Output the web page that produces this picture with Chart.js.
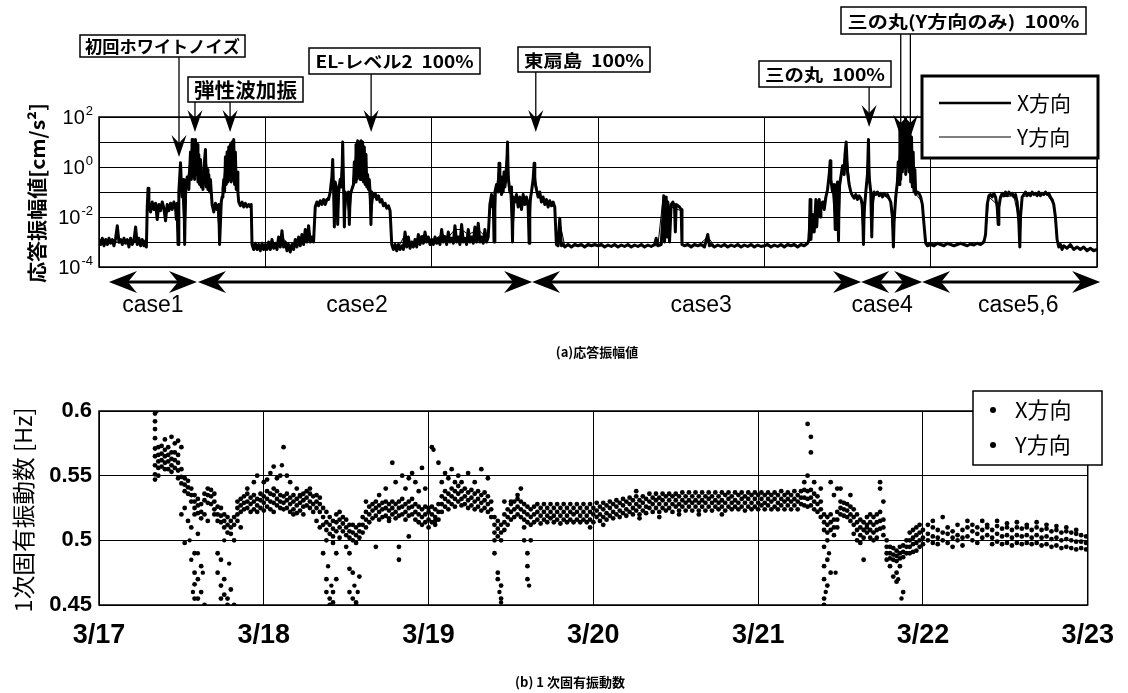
<!DOCTYPE html>
<html>
<head>
<meta charset="utf-8">
<script src="https://cdn.jsdelivr.net/npm/chart.js@4.4.1/dist/chart.umd.min.js"></script>
<style>
  body { margin: 0; background: #fff; width: 1128px; height: 693px; overflow: hidden; position: relative; }
  canvas { position: absolute; left: 0; }
  #amp { top: 0; }
  #freq { top: 365px; }
</style>
</head>
<body>
<canvas id="amp" width="1128" height="365"></canvas>
<canvas id="freq" width="1128" height="328"></canvas>
<script>
// x is days after 3/17 0:00
const dayLabels = ['3/17', '3/18', '3/19', '3/20', '3/21', '3/22', '3/23'];
const ampDecades = [-4, -3, -2, -1, 0, 1, 2];
const ampTickExp = [2, 0, -2, -4];
const freqTicks = [0.45, 0.5, 0.55, 0.6];
const freqTickLabels = ['0.45', '0.5', '0.55', '0.6'];

// (a) response amplitude, [day, log10 cm/s2]
const ampX = [
  [0,-2.9],[.01,-3.1],[.02,-2.85],[.03,-3.15],[.04,-2.9],[.05,-3.1],[.06,-2.85],[.07,-3.05],[.08,-2.9],[.09,-3.15],
  [.1,-2.85],[.11,-2.35],[.12,-3.0],[.13,-2.9],[.14,-3.1],[.15,-2.85],[.16,-3.05],[.17,-2.9],[.18,-3.2],[.19,-2.85],
  [.2,-3.1],[.21,-2.95],[.22,-2.4],[.23,-3.1],[.24,-2.85],[.25,-3.15],[.26,-2.9],[.27,-3.15],[.28,-2.95],[.285,-3.2],
  [.29,-1.6],[.295,-.85],[.3,-1.5],[.31,-1.8],[.32,-1.4],[.33,-1.7],[.34,-1.45],[.35,-2.1],[.36,-1.5],[.37,-1.75],
  [.38,-1.4],[.39,-1.65],[.4,-2.15],[.41,-1.5],[.42,-1.75],[.43,-1.45],[.44,-1.7],[.45,-1.4],[.46,-1.65],[.465,-2.1],
  [.47,-1.45],[.475,-3.1],[.48,-1.0],[.49,.17],[.495,-.6],[.5,-1.2],[.51,-.5],[.515,-3.1],[.52,-.9],[.53,-.4],
  [.54,-.9],[.55,.6],[.555,-.5],[.56,1.1],[.565,-.4],[.57,1.05],[.575,-.5],[.58,1.1],[.585,-.3],[.59,.9],
  [.595,-.6],[.6,.5],[.605,-.7],[.61,.3],[.615,-.8],[.62,-.2],[.625,-.9],[.63,-.1],[.64,.7],[.645,-.8],
  [.65,-.1],[.655,-.9],[.66,-.3],[.665,-1.0],[.67,-.5],[.68,-1.5],[.69,-1.8],[.7,-1.45],[.71,-1.7],[.72,-1.5],
  [.725,-3.1],[.735,-1.4],[.74,-1.2],[.745,-.9],[.75,-.5],[.755,-1.0],[.76,.4],[.765,-.7],[.77,.6],[.775,-.6],
  [.78,.8],[.785,-.5],[.79,.9],[.795,-.6],[.8,1.0],[.805,-.5],[.81,1.1],[.815,-.7],[.82,.6],[.825,-.9],
  [.83,-.2],[.835,-1.0],[.84,-1.4],[.85,-1.55],[.86,-1.4],[.87,-1.6],[.88,-1.45],[.89,-1.6],[.9,-1.5],[.91,-1.6],
  [.915,-1.5],[.92,-3.1],[.93,-3.3],[.94,-3.05],[.95,-3.3],[.96,-3.1],[.97,-3.35],[.98,-3.05],[.99,-3.3],[1.0,-3.1],
  [1.01,-3.3],[1.02,-3.0],[1.03,-3.3],[1.04,-2.9],[1.05,-3.25],[1.06,-3.05],[1.07,-3.3],[1.08,-2.8],[1.09,-3.2],[1.1,-2.55],
  [1.11,-3.2],[1.12,-3.0],[1.13,-3.35],[1.14,-3.1],[1.15,-3.4],[1.16,-3.1],[1.17,-3.3],[1.18,-2.9],[1.19,-3.2],[1.2,-2.8],
  [1.21,-3.15],[1.22,-2.7],[1.23,-3.1],[1.24,-2.5],[1.25,-3.0],[1.26,-2.35],[1.27,-3.0],[1.28,-2.8],[1.29,-3.0],[1.3,-1.6],
  [1.31,-1.4],[1.32,-1.55],[1.33,-1.35],[1.34,-1.5],[1.35,-1.3],[1.36,-1.5],[1.37,-1.3],[1.38,-1.3],[1.39,-1.0],[1.4,-.4],
  [1.405,.3],[1.41,-.8],[1.415,-2.4],[1.42,-.6],[1.43,-.9],[1.435,-2.3],[1.44,-1.0],[1.45,-.5],[1.46,-.8],[1.465,1.0],
  [1.47,-.6],[1.475,-2.4],[1.48,-1.0],[1.49,-1.3],[1.5,-1.0],[1.505,-2.3],[1.51,-1.1],[1.52,-.9],[1.53,-.7],[1.535,.2],
  [1.54,-.6],[1.545,.9],[1.55,-.5],[1.555,1.05],[1.56,-.4],[1.565,1.0],[1.57,-.5],[1.575,1.05],[1.58,-.3],[1.585,1.0],
  [1.59,-.6],[1.595,.8],[1.6,-.7],[1.605,.5],[1.61,-.8],[1.615,-.3],[1.62,-.9],[1.625,-.5],[1.63,-1.0],[1.635,-2.3],
  [1.64,-1.0],[1.65,-1.2],[1.66,-1.05],[1.67,-1.3],[1.68,-1.15],[1.69,-1.4],[1.7,-1.3],[1.71,-1.55],[1.72,-1.45],[1.73,-1.65],
  [1.74,-1.55],[1.75,-1.75],[1.76,-3.1],[1.77,-3.3],[1.78,-3.1],[1.79,-3.35],[1.8,-3.1],[1.81,-3.3],[1.82,-3.15],[1.83,-3.3],
  [1.84,-2.6],[1.85,-3.2],[1.86,-2.8],[1.87,-3.25],[1.88,-3.0],[1.89,-3.2],[1.9,-2.9],[1.91,-3.2],[1.92,-2.7],[1.93,-3.1],
  [1.94,-2.8],[1.95,-3.05],[1.96,-2.6],[1.97,-3.0],[1.98,-2.8],[1.99,-3.1],[2.0,-2.9],[2.01,-3.1],[2.02,-2.8],[2.03,-3.05],
  [2.04,-2.85],[2.05,-3.1],[2.06,-2.5],[2.07,-3.0],[2.08,-2.8],[2.09,-3.1],[2.1,-2.6],[2.11,-3.0],[2.12,-2.85],[2.13,-3.05],
  [2.14,-2.35],[2.15,-3.0],[2.16,-2.8],[2.17,-3.1],[2.18,-2.3],[2.19,-3.0],[2.2,-2.85],[2.21,-3.1],[2.22,-2.5],[2.23,-3.0],
  [2.24,-2.8],[2.25,-3.05],[2.26,-2.4],[2.27,-3.0],[2.28,-2.25],[2.29,-3.0],[2.3,-2.8],[2.31,-3.05],[2.32,-2.5],[2.33,-3.0],
  [2.34,-2.8],[2.35,-1.5],[2.36,-1.1],[2.365,-1.6],[2.37,-1.2],[2.375,-3.0],[2.38,-1.0],[2.39,-.7],[2.4,-1.0],[2.405,.15],
  [2.41,-.6],[2.42,-1.1],[2.425,-.4],[2.43,-1.0],[2.435,-.2],[2.44,-.8],[2.45,-.3],[2.456,1.0],[2.46,-.4],[2.47,-1.0],
  [2.48,-.8],[2.486,-3.0],[2.49,-1.2],[2.5,-1.4],[2.51,-1.1],[2.52,-1.6],[2.53,-1.2],[2.54,-1.7],[2.55,-1.1],[2.56,-1.5],
  [2.57,-1.2],[2.58,-1.6],[2.586,-3.05],[2.59,-1.4],[2.6,-1.0],[2.61,-.5],[2.616,.15],[2.62,-.6],[2.63,-.9],[2.64,-1.2],
  [2.65,-1.0],[2.66,-1.4],[2.67,-1.2],[2.68,-1.5],[2.69,-1.3],[2.7,-1.6],[2.71,-1.35],[2.72,-1.55],[2.73,-1.4],[2.74,-1.6],
  [2.75,-3.1],[2.76,-3.15],[2.77,-2.05],[2.78,-3.15],[2.79,-3.1],[2.8,-3.2],[2.82,-3.1],[2.84,-3.2],[2.86,-3.1],[2.88,-3.15],
  [2.9,-3.1],[2.92,-3.2],[2.94,-3.1],[2.96,-3.15],[2.98,-3.1],[3.0,-3.15],[3.02,-3.1],[3.04,-3.2],[3.06,-3.12],[3.08,-3.18],
  [3.1,-3.1],[3.12,-3.2],[3.14,-3.12],[3.16,-3.18],[3.18,-3.1],[3.2,-3.2],[3.22,-3.12],[3.24,-3.18],[3.26,-3.1],[3.28,-3.2],
  [3.3,-3.12],[3.32,-3.18],[3.34,-3.1],[3.35,-2.85],[3.36,-3.15],[3.38,-3.1],[3.39,-2.0],[3.395,-1.15],[3.4,-3.0],[3.41,-1.2],
  [3.415,-2.8],[3.42,-1.4],[3.43,-3.0],[3.44,-1.5],[3.45,-1.4],[3.46,-1.6],[3.465,-2.6],[3.47,-1.5],[3.48,-1.55],[3.49,-1.6],
  [3.5,-1.7],[3.505,-3.1],[3.52,-3.15],[3.54,-3.1],[3.56,-3.2],[3.58,-3.1],[3.6,-3.15],[3.62,-3.1],[3.64,-3.2],[3.66,-2.7],
  [3.67,-3.15],[3.68,-3.1],[3.7,-3.2],[3.72,-3.12],[3.74,-3.18],[3.76,-3.1],[3.78,-3.2],[3.8,-3.12],[3.82,-3.18],[3.84,-3.1],
  [3.86,-3.2],[3.88,-3.12],[3.9,-3.18],[3.92,-3.1],[3.94,-3.2],[3.96,-3.12],[3.98,-3.18],[4.0,-3.15],[4.02,-3.1],[4.04,-3.2],
  [4.06,-3.12],[4.08,-3.18],[4.1,-3.1],[4.12,-3.2],[4.14,-3.1],[4.16,-3.15],[4.18,-3.1],[4.2,-3.2],[4.22,-3.1],[4.24,-3.15],
  [4.26,-3.05],[4.27,-2.9],[4.275,-1.3],[4.28,-2.9],[4.29,-1.9],[4.3,-2.6],[4.31,-1.3],[4.315,-2.4],[4.32,-1.8],[4.33,-1.3],
  [4.335,-2.0],[4.34,-1.5],[4.35,-1.4],[4.36,-1.7],[4.37,-1.2],[4.38,-.9],[4.39,-.3],[4.396,.25],[4.4,-.5],[4.41,-1.0],
  [4.42,-.7],[4.426,-2.5],[4.43,-1.0],[4.44,-.6],[4.446,-2.95],[4.45,-.8],[4.46,-.4],[4.47,.05],[4.48,-.3],[4.485,.5],
  [4.492,1.0],[4.5,-.2],[4.51,-.7],[4.52,-1.0],[4.53,-1.15],[4.54,-1.25],[4.55,-1.1],[4.56,-1.3],[4.57,-1.15],[4.58,-1.25],
  [4.59,-1.5],[4.596,-3.1],[4.6,-1.8],[4.61,-1.0],[4.62,-.3],[4.626,1.1],[4.63,-.4],[4.64,-1.0],[4.646,-2.8],[4.65,-1.4],
  [4.66,-1.0],[4.67,-1.1],[4.68,-1.0],[4.69,-1.15],[4.7,-1.05],[4.71,-1.2],[4.72,-1.05],[4.73,-1.15],[4.74,-1.1],[4.75,-1.25],
  [4.76,-1.4],[4.77,-2.0],[4.776,-3.2],[4.78,-2.2],[4.79,-1.2],[4.8,-.6],[4.805,.2],[4.81,-.7],[4.815,1.5],[4.82,-.5],
  [4.825,1.7],[4.83,-.2],[4.835,1.65],[4.84,0],[4.845,1.7],[4.85,-.3],[4.855,1.6],[4.86,.1],[4.865,1.7],[4.87,-.2],
  [4.875,1.5],[4.88,-.6],[4.885,1.2],[4.89,-.8],[4.895,.6],[4.9,-1.0],[4.905,-.1],[4.91,-1.1],[4.92,-1.0],[4.93,-1.05],
  [4.94,-1.2],[4.95,-1.5],[4.96,-2.3],[4.97,-3.05],[4.98,-3.15],[5.0,-3.1],[5.02,-3.15],[5.04,-3.05],[5.06,-3.1],[5.08,-3.15],
  [5.1,-3.05],[5.12,-3.1],[5.14,-3.15],[5.16,-3.1],[5.18,-3.05],[5.2,-3.1],[5.22,-3.15],[5.24,-3.08],[5.26,-3.12],[5.28,-3.05],
  [5.3,-3.1],[5.32,-3.0],[5.33,-2.7],[5.34,-1.5],[5.35,-1.15],[5.36,-1.1],[5.37,-1.2],[5.38,-1.05],[5.39,-1.2],[5.4,-1.6],
  [5.406,-2.3],[5.41,-1.6],[5.42,-1.2],[5.43,-1.05],[5.44,-1.15],[5.45,-1.0],[5.46,-1.15],[5.47,-1.0],[5.48,-1.1],[5.49,-1.05],
  [5.5,-1.2],[5.51,-1.1],[5.52,-1.4],[5.53,-2.2],[5.536,-3.2],[5.54,-2.0],[5.55,-1.2],[5.56,-1.1],[5.57,-1.0],[5.58,-1.15],
  [5.59,-1.05],[5.6,-1.15],[5.61,-1.0],[5.62,-1.1],[5.63,-1.05],[5.64,-1.15],[5.65,-1.0],[5.66,-1.15],[5.67,-1.05],[5.68,-1.1],
  [5.69,-1.0],[5.7,-1.1],[5.71,-1.05],[5.72,-1.2],[5.73,-1.3],[5.74,-1.5],[5.75,-2.0],[5.76,-2.9],[5.77,-3.2],[5.78,-3.1],
  [5.79,-3.3],[5.8,-3.15],[5.82,-3.25],[5.84,-3.1],[5.86,-3.3],[5.88,-3.2],[5.9,-3.3],[5.92,-3.2],[5.94,-3.35],[5.96,-3.25],
  [5.98,-3.35],[6.0,-3.3]
];
const ampY = [
  [0,-3.0],[.03,-2.95],[.06,-3.05],[.09,-2.95],[.12,-3.05],[.15,-2.95],[.18,-3.05],[.21,-2.95],[.24,-3.05],[.27,-3.0],
  [.285,-3.05],[.29,-1.7],[.32,-1.55],[.35,-1.9],[.38,-1.55],[.4,-1.9],[.43,-1.6],[.46,-1.6],[.475,-2.9],[.49,-.2],
  [.5,-1.1],[.515,-2.9],[.53,-.6],[.56,.9],[.58,.9],[.6,.2],[.62,-.5],[.64,.5],[.66,-.6],[.67,-.7],
  [.68,-1.6],[.71,-1.6],[.725,-2.9],[.74,-1.2],[.76,.2],[.8,.8],[.81,.9],[.83,-.6],[.84,-1.45],[.88,-1.5],
  [.915,-1.55],[.92,-3.15],[.96,-3.2],[1.0,-3.15],[1.05,-3.2],[1.1,-2.8],[1.15,-3.2],[1.2,-3.0],[1.26,-2.7],[1.29,-2.95],
  [1.3,-1.5],[1.35,-1.4],[1.39,-1.1],[1.405,0],[1.415,-2.2],[1.43,-1.0],[1.435,-2.1],[1.45,-.7],[1.465,.8],[1.475,-2.2],
  [1.49,-1.2],[1.505,-2.1],[1.52,-1.0],[1.545,.7],[1.56,.9],[1.58,.8],[1.6,.3],[1.62,-.7],[1.635,-2.1],[1.65,-1.2],
  [1.7,-1.35],[1.75,-1.7],[1.76,-3.15],[1.8,-3.2],[1.84,-2.7],[1.88,-3.1],[1.92,-2.8],[1.96,-2.7],[2.0,-3.0],[2.06,-2.7],
  [2.1,-2.8],[2.14,-2.5],[2.18,-2.5],[2.22,-2.7],[2.28,-2.5],[2.34,-2.9],[2.35,-1.5],[2.37,-1.3],[2.375,-2.9],[2.39,-.8],
  [2.405,0],[2.43,-.9],[2.456,.8],[2.47,-1.0],[2.486,-2.9],[2.5,-1.4],[2.55,-1.2],[2.58,-1.5],[2.586,-2.9],[2.6,-1.1],
  [2.616,0],[2.64,-1.2],[2.7,-1.5],[2.74,-1.6],[2.75,-3.1],[2.77,-2.2],[2.8,-3.15],[2.9,-3.15],[3.0,-3.15],[3.1,-3.15],
  [3.2,-3.15],[3.3,-3.15],[3.36,-3.15],[3.39,-1.3],[3.4,-2.9],[3.41,-1.3],[3.43,-2.9],[3.44,-1.6],[3.5,-1.75],[3.505,-3.1],
  [3.6,-3.15],[3.66,-2.8],[3.7,-3.15],[3.8,-3.15],[3.9,-3.15],[4.0,-3.15],[4.1,-3.15],[4.2,-3.15],[4.26,-3.1],[4.275,-1.5],
  [4.28,-2.8],[4.31,-1.5],[4.32,-2.0],[4.35,-1.5],[4.38,-1.0],[4.396,.1],[4.41,-1.0],[4.426,-2.4],[4.44,-.7],[4.446,-2.8],
  [4.46,-.5],[4.492,.8],[4.52,-1.1],[4.58,-1.3],[4.596,-3.0],[4.61,-1.1],[4.626,.9],[4.64,-1.1],[4.646,-2.7],[4.66,-1.1],
  [4.72,-1.1],[4.76,-1.4],[4.776,-3.1],[4.79,-1.3],[4.82,1.2],[4.85,1.5],[4.88,1.2],[4.9,-1.0],[4.95,-1.4],[4.97,-3.05],
  [5.1,-3.1],[5.2,-3.1],[5.3,-3.1],[5.33,-2.8],[5.35,-1.2],[5.4,-1.5],[5.406,-2.2],[5.42,-1.2],[5.5,-1.15],[5.53,-2.1],
  [5.536,-3.1],[5.55,-1.2],[5.6,-1.1],[5.7,-1.1],[5.74,-1.5],[5.76,-3.0],[5.8,-3.2],[5.9,-3.25],[6.0,-3.3]
];

// (b) first natural frequency, each row: [day, Hz, Hz, ...]
const freqX = [
  [.34,.598,.592,.586,.579,.571,.565,.558,.551,.547],[.36,.572,.566,.561,.556,.55],[.38,.573,.567,.562,.557],
  [.4,.570,.565,.560,.555,.578],[.42,.572,.566,.561,.555],[.44,.568,.563,.558,.553,.58],[.46,.575,.568,.562,.556],
  [.48,.566,.560,.554,.548,.577],[.5,.555,.549,.544,.52,.572],[.52,.548,.543,.538,.525,.498],[.54,.546,.541,.536,.515],
  [.56,.54,.535,.53,.51],[.58,.535,.53,.525,.52,.49,.475,.466,.455],[.6,.532,.527,.521,.505,.47,.455],
  [.62,.528,.522,.517,.48,.46],[.64,.536,.531,.52,.45],[.66,.54,.535,.529,.515],[.68,.539,.534,.528],
  [.7,.536,.53,.524,.52],[.72,.526,.52,.515,.49,.475],[.74,.525,.519,.514,.485,.465,.455],[.76,.52,.515,.51,.47,.458],
  [.78,.518,.512,.506,.455,.45],[.8,.515,.51,.505,.462],[.82,.518,.512,.5,.45],[.84,.53,.525,.52,.515],
  [.86,.532,.527,.522,.51],[.88,.534,.529,.524],[.9,.536,.53,.525,.54],[.92,.533,.528,.522],[.94,.535,.53,.524,.545],
  [.96,.532,.527,.522,.55],[.98,.536,.531,.525],[1.0,.534,.529,.523,.545],[1.02,.538,.532,.526,.547],
  [1.04,.536,.53,.524,.552],[1.06,.54,.535,.529,.522,.557],[1.08,.538,.532,.527,.548],[1.1,.535,.53,.525,.55],
  [1.12,.534,.529,.524,.572],[1.14,.536,.531,.525,.55],[1.16,.533,.528,.522,.545],[1.18,.535,.53,.524,.52],
  [1.2,.532,.527,.521,.54],[1.22,.534,.529,.523,.535],[1.24,.536,.531,.526,.52],[1.26,.538,.533,.527],
  [1.28,.536,.53,.525,.54],[1.3,.534,.528,.522],[1.32,.535,.53,.525,.515],[1.34,.533,.528,.522,.51],
  [1.36,.525,.518,.512,.49],[1.38,.522,.514,.508,.5,.47,.46],[1.4,.518,.512,.505,.455,.45],[1.42,.515,.509,.503,.498,.46,.452],
  [1.44,.52,.514,.507,.49,.47],[1.46,.522,.516,.51,.502],[1.48,.518,.513,.507],[1.5,.516,.51,.504,.495],
  [1.52,.512,.507,.502,.49,.478,.46],[1.54,.512,.506,.5,.475,.455],[1.56,.51,.504,.498,.452,.45],[1.58,.512,.507,.502,.472],
  [1.6,.518,.512,.506],[1.62,.522,.516,.51,.53],[1.64,.526,.52,.514],[1.66,.528,.523,.517],[1.68,.53,.525,.519,.495],
  [1.7,.527,.522,.516,.535],[1.72,.529,.524,.518],[1.74,.53,.525,.519,.54],[1.76,.528,.523,.517,.515],
  [1.78,.53,.525,.52,.56],[1.8,.528,.522,.517,.545],[1.82,.53,.525,.519,.495,.485],[1.84,.532,.526,.52,.55],
  [1.86,.528,.522,.516,.54],[1.88,.53,.525,.519,.548,.503],[1.9,.532,.526,.52,.552],[1.92,.528,.522,.516,.545],
  [1.94,.526,.52,.514,.538],[1.96,.524,.518,.512,.556],[1.98,.526,.52,.514,.54],[2.0,.522,.516,.51,.525],
  [2.02,.526,.52,.514,.572],[2.04,.524,.518,.512,.515],[2.06,.528,.522,.516,.56],[2.08,.534,.528,.522,.545],
  [2.1,.538,.532,.526,.552],[2.12,.536,.53,.524,.548],[2.14,.54,.534,.528,.555],[2.16,.538,.532,.526,.545],
  [2.18,.542,.536,.53,.55],[2.2,.538,.532,.527,.545],[2.22,.54,.534,.528],[2.24,.537,.531,.525,.552],
  [2.26,.539,.533,.527],[2.28,.536,.53,.524,.545],[2.3,.538,.532,.526],[2.32,.535,.529,.523,.555],
  [2.34,.537,.531,.525],[2.36,.534,.528,.522,.548],[2.38,.53,.524,.518],[2.4,.518,.512,.506,.5,.49],
  [2.42,.515,.509,.503,.475,.47],[2.44,.512,.506,.5,.465,.455],[2.46,.52,.514,.508,.53],[2.48,.524,.518,.512],
  [2.5,.528,.522,.516,.53],[2.52,.53,.524,.518],[2.54,.532,.526,.52,.535],[2.56,.53,.524,.518,.54],
  [2.58,.528,.522,.516,.51,.5],[2.6,.526,.52,.514,.49,.48,.47],[2.62,.524,.518,.512,.5],[2.64,.526,.52,.514],
  [2.66,.528,.522,.516],[2.68,.525,.519,.513],[2.7,.528,.522,.516],[2.72,.525,.519,.514],[2.74,.528,.522,.517],
  [2.76,.525,.519,.514],[2.78,.528,.522,.516],[2.8,.525,.519,.513],[2.82,.528,.522,.516],[2.84,.525,.519,.514],
  [2.86,.528,.522,.516],[2.88,.525,.52,.514],[2.9,.528,.522,.516],[2.92,.525,.519,.514],[2.94,.528,.522,.516],
  [2.96,.525,.519,.514],[2.98,.528,.522,.516,.51],[3.0,.525,.52,.514],[3.02,.529,.523,.518],[3.04,.526,.52,.515],
  [3.06,.529,.524,.518,.512],[3.08,.527,.521,.516],[3.1,.53,.525,.519],[3.12,.528,.522,.517],[3.14,.531,.526,.52],
  [3.16,.529,.523,.518],[3.18,.532,.527,.521],[3.2,.53,.524,.519],[3.22,.533,.528,.522],[3.24,.531,.525,.52],
  [3.26,.534,.528,.523,.538],[3.28,.531,.526,.52,.517],[3.3,.534,.529,.523],[3.32,.532,.526,.521],[3.34,.536,.53,.525],
  [3.36,.533,.528,.522],[3.38,.536,.531,.525],[3.4,.533,.528,.522,.518],[3.42,.536,.531,.525],[3.44,.534,.528,.523],
  [3.46,.536,.531,.525],[3.48,.534,.528,.522],[3.5,.536,.531,.526],[3.52,.534,.528,.523,.52],[3.54,.537,.531,.526],
  [3.56,.534,.529,.523],[3.58,.537,.531,.526],[3.6,.534,.529,.523],[3.62,.537,.531,.526],[3.64,.534,.529,.523,.52],
  [3.66,.537,.531,.526],[3.68,.534,.529,.523],[3.7,.537,.532,.526],[3.72,.534,.529,.523],[3.74,.537,.531,.526],
  [3.76,.534,.529,.524],[3.78,.537,.531,.526,.52],[3.8,.535,.529,.523],[3.82,.537,.532,.526],[3.84,.534,.529,.524],
  [3.86,.537,.531,.526],[3.88,.535,.529,.524],[3.9,.537,.532,.526],[3.92,.534,.529,.523],[3.94,.537,.532,.526],
  [3.96,.535,.529,.524],[3.98,.537,.532,.526],[4.0,.535,.529,.524],[4.02,.537,.532,.527],[4.04,.535,.529,.524],
  [4.06,.537,.532,.527],[4.08,.535,.53,.524],[4.1,.537,.532,.526],[4.12,.535,.529,.524],[4.14,.538,.532,.527],
  [4.16,.535,.53,.524],[4.18,.537,.532,.527],[4.2,.535,.53,.524],[4.22,.538,.532,.527],[4.24,.535,.53,.524],
  [4.26,.538,.533,.528],[4.28,.539,.533,.527,.545],[4.3,.538,.532,.526,.55,.59],[4.32,.539,.533,.527,.568,.58],
  [4.34,.536,.53,.524,.545],[4.36,.534,.528,.522],[4.38,.53,.524,.518,.54],[4.4,.52,.514,.508,.495,.48,.47,.455,.45],
  [4.42,.518,.512,.506,.5,.485,.465],[4.44,.52,.514,.508,.545,.475],[4.46,.516,.51,.504,.535],[4.48,.522,.516,.51,.54],
  [4.5,.53,.525,.52,.54],[4.52,.529,.524,.519],[4.54,.528,.523,.518],[4.56,.526,.52,.515,.535],[4.58,.524,.518,.512,.505],
  [4.6,.52,.514,.508,.5],[4.62,.516,.51,.504,.498],[4.64,.514,.508,.502,.485],[4.66,.518,.512,.506,.51],
  [4.68,.52,.514,.508,.502],[4.7,.518,.512,.506,.5],[4.72,.52,.514,.508,.502],[4.74,.522,.515,.509,.545,.54],
  [4.76,.516,.51,.504,.53],[4.78,.5,.495,.49,.485],[4.8,.495,.49,.486,.48],[4.82,.494,.489,.485,.472],
  [4.84,.492,.488,.484,.475,.468],[4.86,.495,.49,.486,.48],[4.88,.496,.491,.487,.46],[4.9,.5,.495,.49],
  [4.92,.506,.5,.495,.49],[4.94,.508,.502,.497,.491],[4.96,.51,.504,.498,.492],[4.98,.512,.506,.5,.495],
  [5.0,.508,.502,.497],[5.03,.505,.5,.512],[5.06,.51,.503,.498,.515],[5.09,.508,.502,.497],[5.12,.506,.5,.518],
  [5.15,.505,.498,.51],[5.18,.507,.502,.495],[5.21,.504,.5,.512],[5.24,.508,.502,.496],[5.27,.51,.503,.515],
  [5.3,.507,.5,.512],[5.33,.51,.505,.498],[5.36,.508,.502,.515],[5.39,.51,.504,.512],[5.42,.508,.502,.497],
  [5.45,.511,.505,.499,.515],[5.48,.509,.503,.497],[5.51,.51,.504,.498,.513],[5.54,.508,.502,.496],
  [5.57,.51,.504,.498,.514],[5.6,.509,.503,.497],[5.63,.51,.504,.498,.512],[5.66,.508,.502,.497],
  [5.69,.51,.504,.498,.514],[5.72,.508,.502,.496],[5.75,.509,.503,.497,.512],[5.78,.507,.501,.495],
  [5.81,.508,.502,.496,.511],[5.84,.506,.5,.494],[5.87,.507,.501,.495,.51],[5.9,.506,.5,.494],
  [5.93,.505,.499,.493,.508],[5.96,.504,.499,.494],[5.99,.503,.498,.493]
];
const freqY = [
  [.35,.6],[.55,.5],[.56,.485],[.57,.46],[.6,.49],[.63,.475],[.76,.5],[.79,.482],[1.11,.558],[1.39,.48],
  [1.41,.465],[1.55,.465],[1.57,.46],[2.03,.57],[2.43,.46],[2.44,.452],[2.61,.465],[4.41,.46],[4.43,.49],
  [4.47,.475],[4.85,.47],[4.87,.455]
];

const notes = [
  { text: '初回ホワイトノイズ', box: [80, 35, 245, 57], tw: 155, size: 17, days: [0.481], tip: 0.4 },
  { text: '弾性波加振', box: [188, 77, 303, 102], tw: 103, size: 20, days: [0.577, 0.788], tip: 1.4 },
  { text: 'EL-レベル2  100%', box: [309, 48, 480, 74], tw: 158, size: 17, days: [1.636], tip: 1.4 },
  { text: '東扇島  100%', box: [518, 47, 650, 72], tw: 120, size: 17, days: [2.626], tip: 1.4 },
  { text: '三の丸  100%', box: [759, 61, 891, 87], tw: 120, size: 17, days: [4.63], tip: 1.6 },
  { text: '三の丸(Y方向のみ)  100%', box: [841, 7, 1086, 34], tw: 232, size: 17, days: [4.82, 4.878], tip: 1.2 }
];
const cases = [
  { label: 'case1', from: 0.06, to: 0.589, at: 0.324 },
  { label: 'case2', from: 0.595, to: 2.604, at: 1.551 },
  { label: 'case3', from: 2.604, to: 4.582, at: 3.62 },
  { label: 'case4', from: 4.582, to: 4.949, at: 4.708 },
  { label: 'case5,6', from: 4.949, to: 6.019, at: 5.526 }
];

const JP = '"Noto Sans CJK JP", "Noto Sans", sans-serif';
const LAT = '"Liberation Sans", Arial, sans-serif';

function squeezeText(ctx, text, cx, cy, w, font, rot) {
  ctx.font = font;
  const m = ctx.measureText(text).width;
  ctx.save();
  ctx.translate(cx, cy);
  if (rot) ctx.rotate(rot);
  ctx.scale(w / m, 1);
  ctx.textAlign = 'center';
  ctx.textBaseline = 'middle';
  ctx.fillText(text, 0, 0);
  ctx.restore();
}

// stealth style arrow head, tip at (x,y), pointing along ang
function head(ctx, x, y, ang, len, half, notch) {
  ctx.save();
  ctx.translate(x, y);
  ctx.rotate(ang);
  ctx.beginPath();
  ctx.moveTo(0, 0);
  ctx.lineTo(-len, -half);
  ctx.lineTo(-len + notch, 0);
  ctx.lineTo(-len, half);
  ctx.closePath();
  ctx.fill();
  ctx.restore();
}

const ampExtras = {
  id: 'ampExtras',
  afterDatasetsDraw(chart) {
    const { ctx, chartArea: a, scales: { x, y } } = chart;
    ctx.save();
    ctx.fillStyle = '#000';
    ctx.strokeStyle = '#000';
    ctx.lineWidth = 1.5;
    ctx.strokeRect(a.left, a.top, a.right - a.left, a.bottom - a.top);

    // tick labels 10^n
    ampTickExp.forEach(e => {
      const py = y.getPixelForValue(Math.pow(10, e));
      const sup = String(e);
      ctx.font = '13px ' + LAT;
      const sw = ctx.measureText(sup).width;
      ctx.textAlign = 'left';
      ctx.textBaseline = 'middle';
      ctx.fillText(sup, 93 - sw, py - 6);
      ctx.font = '20px ' + LAT;
      ctx.textAlign = 'right';
      ctx.fillText('10', 93 - sw - 1, py + 1);
    });

    // y title
    squeezeText(ctx, '応答振幅値[cm/s²]', 37, 193, 180, 'bold 20px ' + JP, -Math.PI / 2);

    // annotation boxes and arrows
    notes.forEach(n => {
      const [x1, y1, x2, y2] = n.box;
      const tipY = y.getPixelForValue(Math.pow(10, n.tip));
      ctx.lineWidth = 1.3;
      n.days.forEach(d => {
        const px = x.getPixelForValue(d);
        ctx.beginPath();
        ctx.moveTo(px, y2);
        ctx.lineTo(px, tipY - 14);
        ctx.stroke();
        head(ctx, px, tipY, Math.PI / 2, 22, 7.5, 8);
      });
      ctx.fillStyle = '#fff';
      ctx.fillRect(x1, y1, x2 - x1, y2 - y1);
      ctx.fillStyle = '#000';
      ctx.lineWidth = 1.5;
      ctx.strokeRect(x1, y1, x2 - x1, y2 - y1);
      squeezeText(ctx, n.text, (x1 + x2) / 2, (y1 + y2) / 2 + 1, n.tw, 'bold ' + n.size + 'px ' + JP);
    });

    // case arrows
    const ay = 282;
    cases.forEach(c => {
      const p1 = x.getPixelForValue(c.from);
      const p2 = x.getPixelForValue(c.to);
      ctx.lineWidth = 3;
      ctx.beginPath();
      ctx.moveTo(p1 + 10, ay);
      ctx.lineTo(p2 - 10, ay);
      ctx.stroke();
      head(ctx, p1, ay, Math.PI, 28, 11, 9);
      head(ctx, p2, ay, 0, 28, 11, 9);
      ctx.font = '23px ' + LAT;
      ctx.textAlign = 'center';
      ctx.textBaseline = 'middle';
      ctx.fillText(c.label, x.getPixelForValue(c.at), 306);
    });

    // legend
    ctx.fillStyle = '#fff';
    ctx.fillRect(922, 76, 176, 82);
    ctx.fillStyle = '#000';
    ctx.lineWidth = 3;
    ctx.strokeRect(922, 76, 176, 82);
    ctx.lineWidth = 2.5;
    ctx.beginPath(); ctx.moveTo(939, 103); ctx.lineTo(1011, 103); ctx.stroke();
    ctx.lineWidth = 1.1;
    ctx.beginPath(); ctx.moveTo(939, 137); ctx.lineTo(1011, 137); ctx.stroke();
    ctx.font = '21px ' + JP;
    ctx.textAlign = 'left';
    ctx.textBaseline = 'middle';
    ctx.fillText('X方向', 1017, 103);
    ctx.fillText('Y方向', 1017, 137);

    // caption
    ctx.font = 'bold 13px ' + JP;
    ctx.textAlign = 'center';
    ctx.fillText('(a)応答振幅値', 597, 352);
    ctx.restore();
  }
};

const freqExtras = {
  id: 'freqExtras',
  afterDatasetsDraw(chart) {
    const { ctx, chartArea: a } = chart;
    ctx.save();
    ctx.fillStyle = '#000';
    ctx.strokeStyle = '#000';
    ctx.lineWidth = 1.5;
    ctx.strokeRect(a.left, a.top, a.right - a.left, a.bottom - a.top);

    squeezeText(ctx, '1次固有振動数 [Hz]', 23, 145, 205, '23px ' + JP, -Math.PI / 2);

    // legend
    ctx.fillStyle = '#fff';
    ctx.fillRect(973, 26, 129, 74);
    ctx.fillStyle = '#000';
    ctx.lineWidth = 1.5;
    ctx.strokeRect(973, 26, 129, 74);
    [['X方向', 45], ['Y方向', 80]].forEach(([t, ly]) => {
      ctx.beginPath();
      ctx.arc(993, ly, 3, 0, Math.PI * 2);
      ctx.fill();
      ctx.font = '22px ' + JP;
      ctx.textAlign = 'left';
      ctx.textBaseline = 'middle';
      ctx.fillText(t, 1015, ly);
    });

    ctx.font = 'bold 13px ' + JP;
    ctx.textAlign = 'center';
    ctx.textBaseline = 'middle';
    ctx.fillText('(b) 1 次固有振動数', 570, 317);
    ctx.restore();
  }
};

const gridStyle = { color: '#000', lineWidth: 1, drawTicks: false };

new Chart(document.getElementById('amp'), {
  type: 'line',
  data: {
    datasets: [
      {
        label: 'Y方向',
        data: ampY.map(p => ({ x: p[0], y: Math.pow(10, p[1]) })),
        borderColor: '#000', borderWidth: 1, pointRadius: 0, tension: 0
      },
      {
        label: 'X方向',
        data: ampX.map(p => ({ x: p[0], y: Math.pow(10, p[1]) })),
        borderColor: '#000', borderWidth: 3, pointRadius: 0, borderJoinStyle: 'round', tension: 0
      }
    ]
  },
  options: {
    responsive: false,
    animation: false,
    layout: { padding: { left: 0, top: 117, right: 31, bottom: 98 } },
    plugins: { legend: { display: false }, tooltip: { enabled: false } },
    scales: {
      x: {
        type: 'linear', min: 0, max: 6,
        afterBuildTicks: s => { s.ticks = dayLabels.map((_, i) => ({ value: i })); },
        ticks: { display: false },
        grid: gridStyle,
        border: { display: false },
        afterFit: s => { s.height = 0; }
      },
      y: {
        type: 'logarithmic', min: 1e-4, max: 1e2,
        afterBuildTicks: s => { s.ticks = ampDecades.map(e => ({ value: Math.pow(10, e) })); },
        ticks: { display: false },
        grid: gridStyle,
        border: { display: false },
        afterFit: s => { s.width = 99; }
      }
    }
  },
  plugins: [ampExtras]
});

const colPoints = rows => rows.flatMap(r => r.slice(1).map(f => ({ x: r[0], y: f })));

new Chart(document.getElementById('freq'), {
  type: 'scatter',
  data: {
    datasets: [
      { label: 'X方向', data: colPoints(freqX), backgroundColor: '#000', borderWidth: 0, pointRadius: 2.4 },
      { label: 'Y方向', data: freqY.map(p => ({ x: p[0], y: p[1] })), backgroundColor: '#000', borderWidth: 0, pointRadius: 2.2 }
    ]
  },
  options: {
    responsive: false,
    animation: false,
    layout: { padding: { left: 0, top: 46, right: 31, bottom: 0 } },
    plugins: { legend: { display: false }, tooltip: { enabled: false } },
    scales: {
      x: {
        type: 'linear', min: 0, max: 6,
        afterBuildTicks: s => { s.ticks = dayLabels.map((_, i) => ({ value: i })); },
        ticks: {
          callback: v => dayLabels[Math.round(v)],
          font: { family: 'Liberation Sans', size: 27, weight: 'bold' },
          color: '#000', padding: 14, maxRotation: 0, autoSkip: false
        },
        grid: gridStyle,
        border: { display: false },
        afterFit: s => { s.height = 88; }
      },
      y: {
        type: 'linear', min: 0.45, max: 0.6,
        afterBuildTicks: s => { s.ticks = freqTicks.map(v => ({ value: v })); },
        ticks: {
          callback: (v, i) => freqTickLabels[i],
          font: { family: 'Liberation Sans', size: 22, weight: 'bold' },
          color: '#000', padding: 7
        },
        grid: gridStyle,
        border: { display: false },
        afterFit: s => { s.width = 99; }
      }
    }
  },
  plugins: [freqExtras]
});
</script>
</body>
</html>
